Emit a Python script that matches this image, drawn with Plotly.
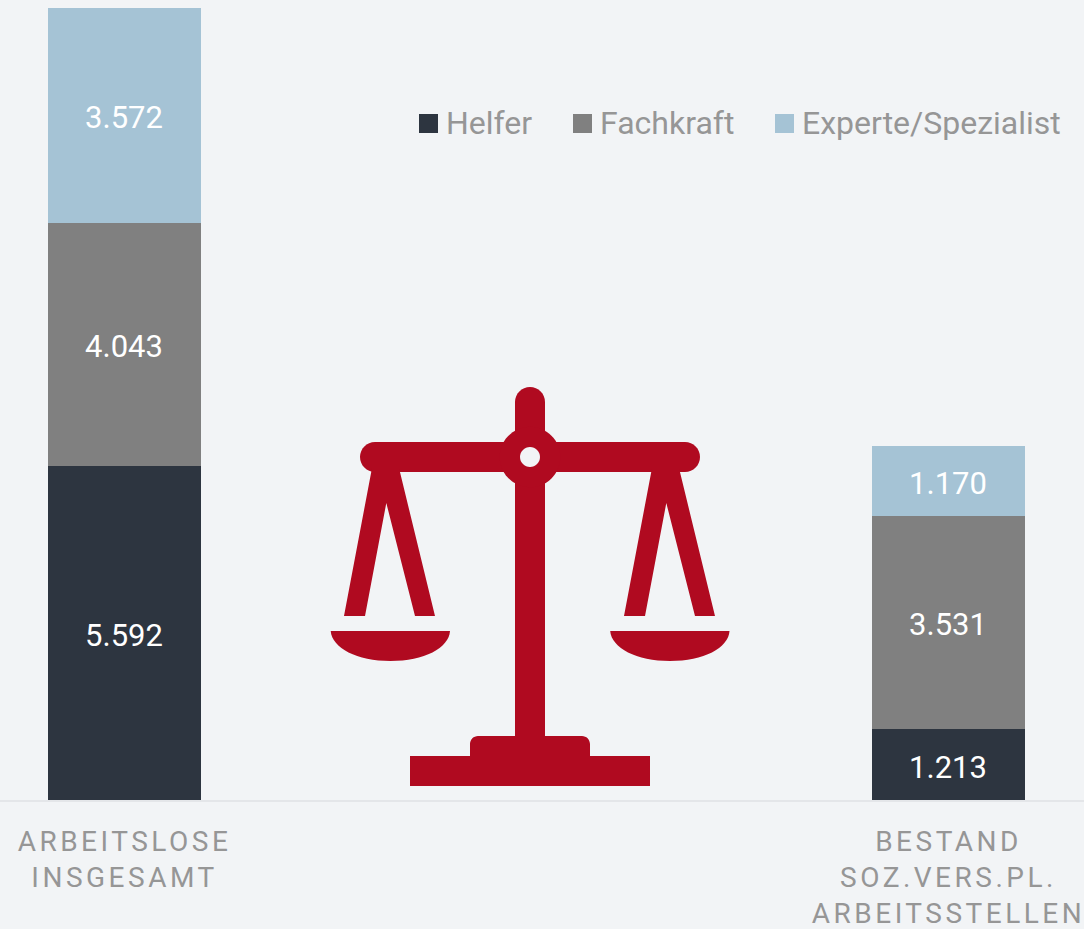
import plotly.graph_objects as go

W, H, BASE = 1084, 929, 800

categories = ["ARBEITSLOSE<br>INSGESAMT", "BESTAND<br>SOZ.VERS.PL.<br>ARBEITSSTELLEN"]
helfer = [5592, 1213]
fachkraft = [4043, 3531]
experte = [3572, 1170]
series_names = ["Helfer", "Fachkraft", "Experte/Spezialist"]
series_values = [helfer, fachkraft, experte]
series_colors = ["#2d3540", "#808080", "#a5c3d5"]

BG = "#f2f4f6"
RED = "#b00a20"
GREY_TEXT = "#969696"


def de(v):
    return f"{v:,}".replace(",", ".")


def px_path(d):
    """Convert an icon path written in page pixels to paper coordinates."""
    out, is_x = [], True
    for tok in d.split():
        if tok.isalpha():
            out.append(tok)
            is_x = True
        else:
            v = float(tok)
            out.append(f"{v / W:.5f}" if is_x else f"{(BASE - v) / BASE:.5f}")
            is_x = not is_x
    return " ".join(out)


def icon(d, color=RED):
    return dict(type="path", xref="paper", yref="paper", path=px_path(d),
                fillcolor=color, line=dict(width=0), layer="above")


def disc(cx, cy, r):
    k = r * 0.5523
    return (f"M {cx - r} {cy} C {cx - r} {cy - k} {cx - k} {cy - r} {cx} {cy - r} "
            f"C {cx + k} {cy - r} {cx + r} {cy - k} {cx + r} {cy} "
            f"C {cx + r} {cy + k} {cx + k} {cy + r} {cx} {cy + r} "
            f"C {cx - k} {cy + r} {cx - r} {cy + k} {cx - r} {cy} Z")


def hanger(dx):
    return (f"M {372 + dx} 468 L {344 + dx} 616 L {365 + dx} 616 L {386.3 + dx} 503 "
            f"L {415 + dx} 616 L {435 + dx} 616 L {399 + dx} 468 Z")


def pan(dx):
    return (f"M {330.7 + dx} 631 L {450 + dx} 631 C {449 + dx} 648 {424 + dx} 661 {390.4 + dx} 661 "
            f"C {357 + dx} 661 {332 + dx} 648 {330.7 + dx} 631 Z")


shapes = [
    icon("M 515 402 C 515 393.7 521.7 387 530 387 C 538.3 387 545 393.7 545 402 L 545 740 L 515 740 Z"),
    icon("M 375 442 L 685 442 C 693.3 442 700 448.7 700 457 C 700 465.3 693.3 472 685 472 "
         "L 375 472 C 366.7 472 360 465.3 360 457 C 360 448.7 366.7 442 375 442 Z"),
    icon(disc(530, 457, 30.3)),
    icon(disc(530, 457, 10), BG),
    icon(hanger(0)), icon(hanger(280)), icon(pan(0)), icon(pan(279.5)),
    icon("M 470 756 L 470 744 C 470 739.6 473.6 736 478 736 L 582 736 C 586.4 736 590 739.6 590 744 "
         "L 590 756 L 650 756 L 650 786 L 410 786 L 410 756 Z"),
]

legend_swatches = [419, 573, 775]
annotations = []
for name, color, sx in zip(series_names, series_colors, legend_swatches):
    shapes.append(dict(type="rect", xref="paper", yref="paper",
                       x0=sx / W, x1=(sx + 19) / W,
                       y0=(BASE - 133) / BASE, y1=(BASE - 114) / BASE,
                       fillcolor=color, line=dict(width=0)))
    annotations.append(dict(text=name, xref="paper", yref="paper", showarrow=False,
                            x=(sx + 25) / W, y=(BASE - 123) / BASE,
                            xanchor="left", yanchor="middle",
                            font=dict(family="Roboto", size=32, color=GREY_TEXT)))

fig = go.Figure()
for name, vals, color in zip(series_names, series_values, series_colors):
    fig.add_trace(go.Bar(x=[0, 1], y=vals, name=name, width=153 / 824,
                         marker=dict(color=color, line=dict(width=0)),
                         text=[de(v) for v in vals], textposition="inside",
                         insidetextanchor="middle", constraintext="none",
                         textangle=0,
                         insidetextfont=dict(family="Roboto", size=31, color="#ffffff"),
                         hoverinfo="skip", showlegend=False))

PX_PER_UNIT = 793.5 / 13207
fig.update_layout(
    width=W, height=H, barmode="stack",
    margin=dict(l=0, r=0, t=0, b=H - BASE, pad=0),
    paper_bgcolor=BG, plot_bgcolor=BG,
    shapes=shapes, annotations=annotations,
    xaxis=dict(range=[-124.5 / 824, (W - 124.5) / 824], tickmode="array",
               tickvals=[0, 1], ticktext=categories, ticks="", showgrid=False,
               zeroline=False, showline=True, linecolor="#e4e6e9", linewidth=2,
               tickangle=0, automargin=False, ticklabelstandoff=15,
               tickfont=dict(family="Roboto", size=28, color=GREY_TEXT)),
    yaxis=dict(range=[1.5 / PX_PER_UNIT, 801.5 / PX_PER_UNIT], visible=False, fixedrange=True),
)

post = """
document.body.style.margin='0';
document.body.style.overflow='hidden';
document.querySelectorAll('.xtick text').forEach(function(t){t.style.letterSpacing='3.5px';});
document.querySelectorAll('text.bartext').forEach(function(t){
  t.setAttribute('transform','translate(-0.5,2) '+(t.getAttribute('transform')||''));
});
"""
fig.write_html("out.html", post_script=post, config=dict(displayModeBar=False))
